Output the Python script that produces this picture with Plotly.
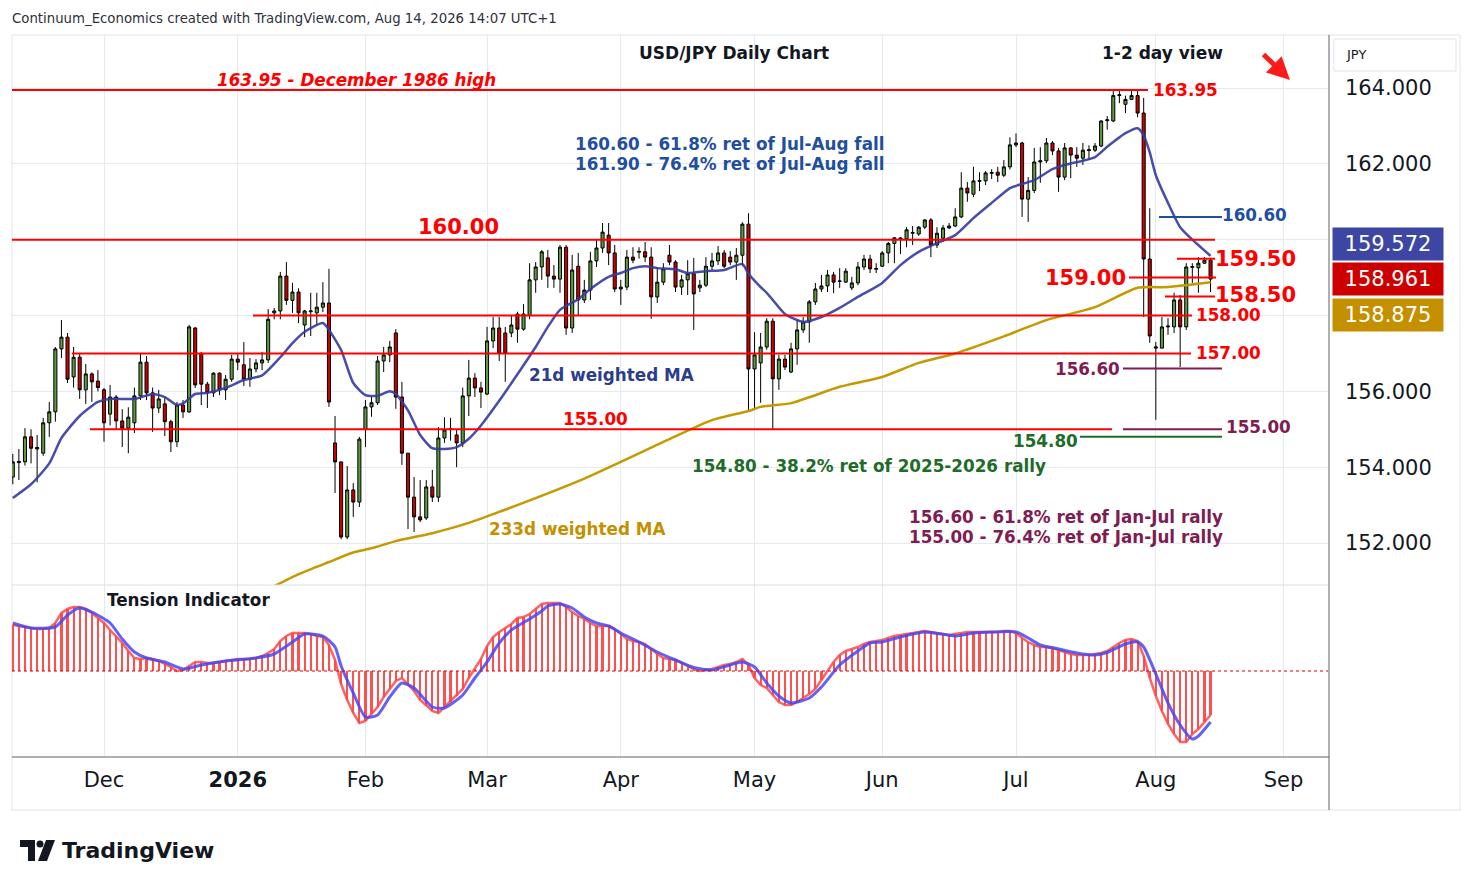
import numpy as np
import pandas as pd
import plotly.graph_objects as go

# ---------------- data ----------------
holidays = ["2025-12-25", "2026-01-01"]
calendar = [d for d in pd.bdate_range("2025-11-10", "2026-09-30")
            if d.strftime("%Y-%m-%d") not in holidays]
n_bars = 198
dates = [d.strftime("%Y-%m-%d") for d in calendar[:n_bars]]

opens = [153.74, 154.12, 154.14, 154.80, 154.48, 154.37, 155.17, 155.46, 157.12, 157.43,
         156.38, 156.90, 156.04, 156.46, 156.27, 156.04, 155.40, 155.85, 155.22, 155.03,
         155.17, 155.88, 156.77, 155.96, 155.56, 155.67, 155.20, 154.67, 155.64, 155.46,
         157.67, 157.00, 156.19, 155.96, 156.48, 156.04, 156.32, 156.85, 156.70, 156.32,
         156.59, 156.75, 156.83, 158.07, 158.12, 159.04, 158.40, 158.62, 157.75, 158.10,
         158.07, 158.22, 158.33, 154.64, 154.14, 152.16, 153.40, 153.08, 155.00, 155.59,
         155.70, 156.80, 156.96, 157.54, 155.85, 154.37, 153.21, 152.69, 152.66, 153.48,
         153.21, 154.77, 154.99, 154.85, 154.64, 155.88, 156.35, 156.09, 155.93, 157.33,
         157.67, 157.54, 157.54, 158.04, 157.64, 158.00, 158.94, 159.28, 159.52, 159.04,
         158.96, 159.80, 157.67, 159.30, 158.41, 158.67, 159.44, 159.78, 160.12, 159.65,
         158.70, 158.75, 159.54, 159.67, 159.68, 159.54, 158.49, 158.88, 159.59, 159.41,
         158.75, 158.94, 159.10, 158.73, 158.80, 159.30, 159.44, 159.65, 159.54, 159.41,
         159.59, 160.41, 156.59, 156.75, 157.17, 157.85, 156.33, 156.85, 156.51, 157.12,
         157.62, 157.83, 158.36, 158.70, 158.78, 159.07, 158.90, 158.88, 158.73, 158.86,
         159.28, 159.49, 159.22, 159.30, 159.65, 159.90, 160.02, 160.02, 160.17, 160.15,
         160.33, 160.52, 159.86, 160.04, 160.31, 160.36, 160.60, 161.36, 161.20, 161.54,
         161.55, 161.75, 161.78, 161.70, 161.92, 162.50, 162.55, 161.07, 161.30, 162.05,
         162.08, 162.55, 162.34, 161.65, 162.42, 162.23, 162.15, 162.35, 162.36, 162.47,
         163.14, 163.13, 163.80, 163.57, 163.70, 163.80, 163.34, 159.49, 157.14, 157.14,
         157.70, 157.70, 158.41, 157.70, 159.27, 159.26, 159.38, 159.46]
highs = [154.35, 154.48, 155.03, 155.00, 154.85, 155.30, 155.72, 157.17, 157.88, 157.54,
         157.17, 157.00, 156.72, 156.50, 156.56, 156.09, 156.17, 155.90, 155.53, 155.58,
         156.10, 157.00, 156.93, 156.10, 156.04, 155.85, 155.25, 155.72, 155.77, 157.75,
         157.70, 157.04, 156.25, 156.50, 156.50, 156.43, 156.96, 156.98, 157.30, 156.88,
         156.85, 157.04, 158.17, 158.20, 159.15, 159.41, 158.86, 158.72, 158.15, 158.60,
         158.60, 158.88, 159.23, 155.35, 154.14, 154.03, 153.58, 154.80, 155.77, 155.85,
         156.93, 157.17, 157.33, 157.64, 156.25, 154.37, 153.74, 153.66, 153.66, 153.93,
         155.06, 155.32, 155.30, 154.98, 156.10, 156.83, 156.48, 156.25, 157.70, 157.96,
         157.96, 157.70, 158.00, 158.10, 158.30, 159.38, 159.41, 159.73, 159.73, 159.33,
         159.86, 159.86, 159.60, 159.65, 158.94, 159.68, 160.00, 160.44, 160.44, 159.86,
         158.94, 159.73, 159.80, 159.80, 159.94, 159.80, 159.28, 159.38, 159.86, 159.46,
         159.07, 159.46, 159.52, 158.94, 159.54, 159.65, 159.83, 159.73, 159.70, 159.78,
         160.46, 160.70, 157.56, 157.54, 157.93, 157.93, 156.96, 156.96, 157.28, 157.88,
         157.96, 158.41, 158.86, 159.07, 159.20, 159.15, 159.25, 159.25, 159.02, 159.41,
         159.60, 159.60, 159.38, 159.70, 159.94, 160.07, 160.07, 160.33, 160.36, 160.36,
         160.54, 160.57, 160.33, 160.39, 160.44, 160.83, 161.78, 161.52, 161.92, 161.78,
         161.81, 161.86, 161.92, 162.10, 162.70, 162.80, 162.58, 161.65, 162.42, 162.44,
         162.68, 162.60, 162.42, 162.55, 162.44, 162.44, 162.55, 162.49, 162.55, 163.15,
         163.26, 163.95, 163.92, 163.80, 163.95, 163.95, 163.74, 160.83, 157.30, 157.96,
         157.93, 158.60, 158.54, 159.38, 159.38, 159.54, 159.54, 159.52]
lows = [153.55, 153.66, 154.04, 154.10, 153.60, 154.30, 154.80, 155.20, 156.88, 156.22,
        156.10, 155.80, 155.67, 155.72, 156.00, 154.67, 155.10, 155.00, 154.53, 154.37,
        154.90, 155.77, 155.77, 154.93, 155.43, 154.82, 154.40, 154.53, 155.30, 155.43,
        156.09, 155.64, 155.56, 155.85, 155.90, 155.77, 156.25, 156.56, 156.14, 156.12,
        156.50, 156.56, 156.75, 157.90, 157.90, 158.28, 158.07, 157.80, 157.43, 157.46,
        157.75, 158.09, 155.59, 153.32, 152.10, 152.10, 152.69, 152.95, 154.53, 155.33,
        155.64, 156.51, 156.77, 155.54, 154.06, 152.37, 152.29, 152.55, 152.61, 153.08,
        153.08, 154.64, 154.70, 154.00, 154.53, 155.35, 155.85, 155.56, 155.90, 157.14,
        156.80, 156.25, 157.43, 157.28, 157.60, 157.90, 158.60, 158.94, 158.73, 158.73,
        158.60, 157.49, 157.54, 158.00, 158.33, 158.41, 159.28, 159.65, 159.33, 158.62,
        158.28, 158.67, 159.38, 159.50, 159.41, 157.91, 158.33, 158.80, 159.33, 158.62,
        158.54, 158.54, 157.62, 158.62, 158.75, 159.20, 159.33, 159.25, 159.33, 158.94,
        159.30, 155.50, 155.51, 155.70, 157.10, 155.00, 156.04, 156.56, 156.48, 156.70,
        157.54, 157.28, 158.28, 158.62, 158.62, 158.59, 158.73, 158.86, 158.67, 158.80,
        159.20, 159.12, 159.12, 159.28, 159.38, 159.38, 159.62, 159.80, 159.86, 160.10,
        160.28, 159.54, 159.78, 159.94, 160.28, 160.33, 160.57, 161.00, 161.12, 161.28,
        161.44, 161.60, 161.52, 161.65, 161.85, 162.44, 160.60, 160.47, 161.23, 161.50,
        162.02, 162.23, 161.26, 161.57, 161.62, 161.92, 161.97, 162.10, 162.31, 162.44,
        162.90, 163.10, 163.60, 163.34, 163.70, 163.23, 157.96, 157.28, 155.25, 157.14,
        157.49, 157.54, 156.64, 157.62, 158.86, 158.60, 159.36, 158.62]
closes = [154.14, 154.15, 154.80, 154.50, 154.52, 155.17, 155.46, 157.12, 157.43, 156.32,
          156.90, 156.04, 156.46, 156.25, 156.10, 155.17, 155.85, 155.22, 155.03, 155.32,
          155.88, 156.77, 155.96, 155.56, 155.80, 155.20, 154.67, 155.64, 155.46, 157.70,
          156.17, 156.19, 155.96, 156.48, 156.04, 156.32, 156.85, 156.77, 156.32, 156.59,
          156.75, 156.83, 157.90, 158.12, 159.04, 158.40, 158.62, 158.07, 158.12, 158.12,
          158.22, 158.33, 155.72, 154.14, 152.16, 153.40, 153.08, 154.74, 155.59, 155.70,
          156.80, 156.96, 157.17, 155.85, 154.37, 153.21, 152.69, 152.61, 153.48, 153.21,
          154.77, 154.98, 155.01, 154.64, 155.88, 156.35, 156.09, 155.98, 157.33, 157.67,
          157.00, 157.00, 157.75, 157.64, 158.04, 158.94, 159.28, 159.68, 159.04, 158.96,
          159.80, 157.67, 159.20, 158.41, 158.67, 159.44, 159.78, 160.20, 159.65, 158.70,
          158.75, 159.54, 159.46, 159.69, 159.54, 158.49, 158.88, 159.23, 159.41, 158.75,
          158.94, 159.10, 158.57, 158.80, 159.30, 159.44, 159.65, 159.30, 159.41, 159.59,
          160.41, 156.59, 156.96, 157.17, 157.85, 156.33, 156.85, 156.64, 157.12, 157.62,
          157.83, 158.36, 158.70, 158.78, 159.07, 158.88, 158.91, 159.17, 158.86, 159.28,
          159.49, 159.23, 159.24, 159.65, 159.90, 160.05, 160.04, 160.26, 160.19, 160.33,
          160.52, 159.86, 160.17, 160.31, 160.36, 160.60, 161.36, 161.23, 161.55, 161.56,
          161.76, 161.77, 161.70, 161.92, 162.50, 162.55, 161.07, 161.30, 162.05, 162.08,
          162.55, 162.34, 161.65, 162.42, 162.23, 162.15, 162.36, 162.37, 162.47, 163.13,
          163.16, 163.80, 163.82, 163.70, 163.80, 163.34, 159.49, 157.46, 157.17, 157.70,
          157.72, 158.41, 157.70, 159.28, 159.29, 159.38, 159.46, 158.961]

ma21_dates = ["2025-11-10", "2025-11-13", "2025-11-18", "2025-11-20", "2025-11-25", "2025-11-28",
              "2025-12-02", "2025-12-08", "2025-12-11", "2025-12-15", "2025-12-17", "2025-12-18",
              "2025-12-22", "2025-12-24", "2025-12-30", "2026-01-05", "2026-01-08", "2026-01-13",
              "2026-01-15", "2026-01-19", "2026-01-22", "2026-01-23", "2026-01-27", "2026-01-29",
              "2026-02-02", "2026-02-04", "2026-02-06", "2026-02-09", "2026-02-11", "2026-02-13",
              "2026-02-17", "2026-02-19", "2026-02-23", "2026-02-25", "2026-02-27", "2026-03-04",
              "2026-03-09", "2026-03-12", "2026-03-16", "2026-03-18", "2026-03-23", "2026-03-25",
              "2026-03-30", "2026-04-01", "2026-04-03", "2026-04-07", "2026-04-09", "2026-04-14",
              "2026-04-16", "2026-04-21", "2026-04-24", "2026-04-29", "2026-04-30", "2026-05-04",
              "2026-05-05", "2026-05-06", "2026-05-08", "2026-05-13", "2026-05-18", "2026-05-21",
              "2026-05-26", "2026-06-01", "2026-06-04", "2026-06-09", "2026-06-12", "2026-06-17",
              "2026-06-22", "2026-06-25", "2026-06-30", "2026-07-01", "2026-07-06", "2026-07-09",
              "2026-07-13", "2026-07-20", "2026-07-22", "2026-07-27", "2026-07-29", "2026-07-30",
              "2026-07-31", "2026-08-03", "2026-08-05", "2026-08-07", "2026-08-11", "2026-08-14"]
ma21_values = [153.19, 153.55, 154.10, 154.77, 155.35, 155.72,
               155.80, 155.80, 155.93, 155.85, 155.64, 155.68,
               155.93, 155.96, 156.09, 156.30, 156.42, 156.90,
               157.27, 157.57, 157.80, 157.62, 157.09, 156.22,
               155.90, 155.88, 156.00, 155.93, 155.50, 154.85,
               154.50, 154.48, 154.53, 154.75, 155.10, 155.75,
               156.45, 157.17, 157.70, 158.15, 158.43, 158.70,
               159.02, 159.12, 159.25, 159.30, 159.25, 159.22,
               159.12, 159.17, 159.20, 159.36, 159.10, 158.75,
               158.60, 158.41, 158.04, 157.83, 157.96, 158.20,
               158.49, 158.86, 159.33, 159.68, 159.91, 160.12,
               160.57, 160.97, 161.36, 161.42, 161.57, 161.86,
               161.97, 162.18, 162.45, 162.81, 162.94, 162.75,
               162.30, 161.70, 160.97, 160.33, 160.00, 159.572]

ma233_dates = ["2026-01-09", "2026-01-16", "2026-01-23", "2026-01-29", "2026-02-03", "2026-02-09",
               "2026-02-17", "2026-02-25", "2026-03-04", "2026-03-24", "2026-04-13", "2026-04-22",
               "2026-04-30", "2026-05-04", "2026-05-11", "2026-05-21", "2026-06-01", "2026-06-09",
               "2026-06-17", "2026-06-29", "2026-07-08", "2026-07-20", "2026-07-29", "2026-08-05",
               "2026-08-14"]
ma233_values = [150.78, 151.18, 151.50, 151.75, 151.86, 152.05,
                152.26, 152.53, 152.82, 153.70, 154.74, 155.24,
                155.48, 155.59, 155.69, 156.12, 156.38, 156.75,
                157.00, 157.45, 157.88, 158.22, 158.73, 158.75,
                158.875]

tension_hist = [4.6, 4.5, 4.4, 4.3, 4.2, 4.2, 4.3, 4.8, 5.8, 6.2,
                6.4, 6.4, 6.2, 5.8, 5.3, 4.8, 4.1, 3.5, 2.8, 2.0,
                1.3, 1.2, 1.3, 1.2, 1.0, 0.7, 0.4, 0.0, 0.1, 0.5,
                0.9, 0.9, 0.8, 0.8, 0.9, 1.0, 1.1, 1.2, 1.2, 1.2,
                1.3, 1.5, 1.8, 2.2, 3.0, 3.5, 3.8, 3.8, 3.8, 3.7,
                3.5, 3.4, 2.6, 1.1, -1.3, -2.9, -4.2, -5.2, -5.0, -4.3,
                -3.6, -2.6, -1.8, -1.0, -0.7, -1.3, -2.0, -2.9, -3.5, -4.0,
                -4.2, -3.6, -3.1, -2.5, -1.8, -0.7, 0.2, 1.2, 2.5, 3.4,
                3.9, 4.3, 4.7, 5.3, 5.4, 5.7, 6.2, 6.7, 6.8, 6.8,
                6.8, 6.4, 5.9, 5.5, 5.2, 4.8, 4.5, 4.5, 4.5, 4.2,
                3.7, 3.2, 3.0, 2.9, 2.7, 2.2, 1.7, 1.3, 1.2, 1.1,
                0.8, 0.5, 0.2, 0.0, 0.1, 0.2, 0.4, 0.6, 0.7, 0.9,
                1.2, 0.6, -0.7, -1.4, -1.7, -2.4, -3.1, -3.4, -3.4, -3.1,
                -2.7, -2.3, -1.8, -0.9, 0.0, 0.9, 1.6, 2.0, 2.2, 2.4,
                2.7, 2.9, 3.0, 3.1, 3.3, 3.5, 3.6, 3.7, 3.8, 3.9,
                4.0, 3.9, 3.8, 3.7, 3.6, 3.7, 3.8, 3.9, 3.9, 3.9,
                3.9, 3.9, 3.9, 4.0, 4.0, 3.8, 3.3, 2.9, 2.6, 2.4,
                2.4, 2.3, 2.1, 1.9, 1.7, 1.6, 1.6, 1.6, 1.7, 1.8,
                2.0, 2.4, 2.8, 3.1, 3.2, 3.0, 1.5, -0.7, -2.5, -4.0,
                -5.3, -6.3, -7.1, -7.1, -6.3, -5.8, -5.1, -4.4]

signal_dates = ["2025-11-10", "2025-11-13", "2025-11-19", "2025-11-21", "2025-11-25", "2025-11-27",
                "2025-12-02", "2025-12-04", "2025-12-08", "2025-12-10", "2025-12-15", "2025-12-18",
                "2025-12-23", "2025-12-30", "2026-01-07", "2026-01-12", "2026-01-15", "2026-01-19",
                "2026-01-22", "2026-01-26", "2026-01-27", "2026-01-29", "2026-02-02", "2026-02-04",
                "2026-02-06", "2026-02-10", "2026-02-12", "2026-02-17", "2026-02-19", "2026-02-24",
                "2026-02-26", "2026-03-02", "2026-03-04", "2026-03-06", "2026-03-11", "2026-03-13",
                "2026-03-16", "2026-03-18", "2026-03-20", "2026-03-24", "2026-03-26", "2026-03-30",
                "2026-04-01", "2026-04-06", "2026-04-09", "2026-04-14", "2026-04-17", "2026-04-22",
                "2026-04-27", "2026-04-29", "2026-05-01", "2026-05-05", "2026-05-07", "2026-05-11",
                "2026-05-14", "2026-05-18", "2026-05-21", "2026-05-26", "2026-05-28", "2026-06-01",
                "2026-06-04", "2026-06-10", "2026-06-17", "2026-06-22", "2026-06-25", "2026-07-01",
                "2026-07-03", "2026-07-07", "2026-07-10", "2026-07-15", "2026-07-20", "2026-07-22",
                "2026-07-27", "2026-07-29", "2026-07-30", "2026-08-03", "2026-08-05", "2026-08-07",
                "2026-08-11", "2026-08-12", "2026-08-14"]
signal_values = [4.8, 4.3, 4.4, 5.6, 6.3, 5.9,
                 4.8, 3.2, 1.9, 1.3, 0.9, 0.2,
                 0.6, 1.0, 1.3, 1.7, 2.9, 3.7,
                 3.5, 2.4, 0.5, -2.2, -4.6, -4.4,
                 -2.6, -1.2, -1.7, -3.6, -3.7, -2.4,
                 -0.7, 0.9, 2.8, 4.1, 5.2, 6.0,
                 6.5, 6.7, 6.3, 5.4, 4.8, 4.5,
                 3.8, 2.9, 1.9, 1.1, 0.35, 0.1,
                 0.6, 0.9, 0.4, -1.2, -2.5, -3.2,
                 -2.7, -1.6, 0.6, 2.0, 2.8, 2.9,
                 3.4, 3.9, 3.5, 3.8, 3.9, 3.9,
                 3.3, 2.6, 2.2, 1.8, 1.6, 1.85,
                 2.7, 2.9, 2.4, -0.3, -3.2, -5.4,
                 -6.8, -6.5, -5.1]

red_levels = [163.95, 160.00, 159.50, 159.00, 158.50, 158.00, 157.00, 155.00]
purple_levels = [156.60, 155.00]
green_levels = [154.80]
blue_levels = [160.60]

month_starts = ["2025-12", "2026-01", "2026-02", "2026-03", "2026-04",
                "2026-05", "2026-06", "2026-07", "2026-08", "2026-09"]
month_labels = ["Dec", "<b>2026</b>", "Feb", "Mar", "Apr", "May", "Jun", "Jul", "Aug", "Sep"]
price_ticks = [152, 154, 156, 158, 160, 162, 164]
price_tick_text = ["152.000", "154.000", "156.000", "", "", "162.000", "164.000"]

# ---------------- geometry helpers (layout only) ----------------
W, H = 1474, 887
PL, PR, PT, PB = 12, 1328, 35, 757
SPLIT = 585


def xp(px):
    return (px - PL) / (PR - PL)


def yp(py):
    return (PB - py) / (PB - PT)


index_of = {d.strftime("%Y-%m-%d"): i for i, d in enumerate(calendar)}
x = np.arange(n_bars)
tickvals = [next(i for i, d in enumerate(calendar) if d.strftime("%Y-%m") == m) for m in month_starts]
bar_px = 6.08
first_px = 12.8
x_range = [(PL - first_px) / bar_px, (PR - first_px) / bar_px]

FONT = "DejaVu Sans"
RED = "#ff0000"
PURPLE = "#7d1d52"
GREEN = "#1f6b28"
BLUE = "#1f4f9e"
GRID = "#e4eaf1"
TXT = 16.8

fig = go.Figure()

fig.add_trace(go.Scatter(x=[index_of[d] for d in ma233_dates], y=ma233_values, mode="lines",
                         line=dict(color="#c49a00", width=2.5, shape="spline", smoothing=0.6),
                         hoverinfo="skip", showlegend=False, xaxis="x", yaxis="y"))
fig.add_trace(go.Scatter(x=[index_of[d] for d in ma21_dates], y=ma21_values, mode="lines",
                         line=dict(color="rgba(52,58,160,0.9)", width=2.5, shape="spline", smoothing=0.6),
                         hoverinfo="skip", showlegend=False, xaxis="x", yaxis="y"))
fig.add_trace(go.Candlestick(x=x, open=opens, high=highs, low=lows, close=closes,
                             increasing=dict(line=dict(color="#000000", width=1), fillcolor="#5e9c42"),
                             decreasing=dict(line=dict(color="#000000", width=1), fillcolor="#cc0000"),
                             whiskerwidth=0, hoverinfo="skip", showlegend=False,
                             xaxis="x", yaxis="y"))

fig.add_trace(go.Bar(x=x, y=tension_hist, width=0.36, marker=dict(color="rgba(255,60,60,0.9)", line=dict(width=0)),
                     hoverinfo="skip", showlegend=False, xaxis="x2", yaxis="y2"))
fig.add_trace(go.Scatter(x=x, y=tension_hist, mode="lines",
                         line=dict(color="rgba(255,70,70,0.85)", width=2.5),
                         hoverinfo="skip", showlegend=False, xaxis="x2", yaxis="y2"))
fig.add_trace(go.Scatter(x=[index_of[d] for d in signal_dates], y=signal_values, mode="lines",
                         line=dict(color="rgba(70,70,245,0.85)", width=3, shape="spline", smoothing=0.6),
                         hoverinfo="skip", showlegend=False, xaxis="x2", yaxis="y2"))

shapes = []


def hline(level, px0, px1, color, width=2):
    shapes.append(dict(type="line", xref="paper", yref="y", x0=xp(px0), x1=xp(px1),
                       y0=level, y1=level, line=dict(color=color, width=width)))


red_extents = [(12, 1148), (12, 1215), (1177, 1215), (1129, 1216), (1165, 1215),
               (253, 1192), (72, 1191), (90, 1112)]
for lv, (a, b) in zip(red_levels, red_extents):
    hline(lv, a, b, RED)
for lv in purple_levels:
    hline(lv, 1123, 1222, PURPLE)
for lv in green_levels:
    hline(lv, 1080, 1222, GREEN)
for lv in blue_levels:
    hline(lv, 1159, 1222, BLUE)

# zero line of the indicator
shapes.append(dict(type="line", xref="paper", yref="y2", x0=0, x1=1, y0=0, y1=0,
                   line=dict(color="#e00000", width=1, dash="dot")))
# frame and separators
shapes.append(dict(type="rect", xref="paper", yref="paper", x0=xp(12), x1=xp(1460), y0=yp(810), y1=yp(35),
                   line=dict(color="#e0e3eb", width=1), layer="below"))
shapes.append(dict(type="line", xref="paper", yref="paper", x0=0, x1=1, y0=yp(SPLIT), y1=yp(SPLIT),
                   line=dict(color="#d9dde6", width=1)))
shapes.append(dict(type="line", xref="paper", yref="paper", x0=xp(1329), x1=xp(1329), y0=yp(35), y1=yp(810),
                   line=dict(color="#5d606b", width=1)))
shapes.append(dict(type="line", xref="paper", yref="paper", x0=0, x1=xp(1329), y0=yp(757), y1=yp(757),
                   line=dict(color="#5d606b", width=1)))
# JPY box
shapes.append(dict(type="rect", xref="paper", yref="paper", x0=xp(1334), x1=xp(1456), y0=yp(71), y1=yp(39),
                   line=dict(color="#e0e3eb", width=1), fillcolor="white"))
# TradingView logo
shapes.append(dict(type="path", xref="paper", yref="paper", fillcolor="#131722", line=dict(width=0),
                   path=f"M{xp(20)},{yp(840)} L{xp(35)},{yp(840)} L{xp(35)},{yp(861)} L{xp(28)},{yp(861)} "
                        f"L{xp(28)},{yp(847)} L{xp(20)},{yp(847)} Z"))
shapes.append(dict(type="circle", xref="paper", yref="paper", fillcolor="#131722", line=dict(width=0),
                   x0=xp(36.5), x1=xp(43.5), y0=yp(847.5), y1=yp(840.5)))
shapes.append(dict(type="path", xref="paper", yref="paper", fillcolor="#131722", line=dict(width=0),
                   path=f"M{xp(46)},{yp(840)} L{xp(55)},{yp(840)} L{xp(47)},{yp(861)} L{xp(38)},{yp(861)} Z"))

annotations = []


def label(text, px, py, color, size=TXT, anchor="left", bold=True, italic=False, family=FONT):
    t = f"<b>{text}</b>" if bold else text
    if italic:
        t = f"<i>{t}</i>"
    annotations.append(dict(text=t, xref="paper", yref="paper", x=xp(px), y=yp(py),
                            xanchor=anchor, yanchor="middle", showarrow=False,
                            font=dict(family=family, size=size, color=color)))


label("Continuum_Economics created with TradingView.com, Aug 14, 2026 14:07 UTC+1", 10, 19, "#2e323c",
      size=13.3, bold=False)
label("USD/JPY Daily Chart", 734, 53, "#131722", size=17, anchor="center")
label("1-2 day view", 1162, 53, "#131722", size=17, anchor="center")
label("163.95 - December 1986 high", 215, 80, RED, italic=True)
label("163.95", 1151, 90, RED)
label("160.60 - 61.8% ret of Jul-Aug fall", 573, 144, BLUE)
label("161.90 - 76.4% ret of Jul-Aug fall", 573, 164, BLUE)
label("160.00", 416, 227, RED, size=21)
label("21d weighted MA", 527, 375, "#2b3d8c")
label("155.00", 561, 419, RED)
label("233d weighted MA", 487, 529, "#c49000")
label("154.80 - 38.2% ret of 2025-2026 rally", 690, 466, GREEN)
label("154.80", 1011, 441, GREEN)
label("156.60", 1053, 369, PURPLE)
label("155.00", 1224, 427, PURPLE)
label("156.60 - 61.8% ret of Jan-Jul rally", 907, 517, PURPLE)
label("155.00 - 76.4% ret of Jan-Jul rally", 907, 537, PURPLE)
label("159.00", 1043, 278, RED, size=21)
label("159.50", 1213, 259, RED, size=21)
label("158.50", 1213, 295, RED, size=21)
label("158.00", 1194, 315, RED)
label("157.00", 1194, 353, RED)
label("160.60", 1220, 215, BLUE)
label("Tension Indicator", 105, 600, "#131722")
label("JPY", 1344, 55, "#131722", size=13, bold=False)
label("TradingView", 60, 850, "#131722", size=22)

# last-value boxes on the price scale
for txt, py, bg in [(f"{ma21_values[-1]:.3f}", 244, "#3d47a3"),
                    (f"{closes[-1]:.3f}", 279, "#cc0000"),
                    (f"{ma233_values[-1]:.3f}", 315, "#c49000")]:
    annotations.append(dict(text=txt, xref="paper", yref="paper", x=xp(1388), y=yp(py),
                            xanchor="center", yanchor="middle", showarrow=False,
                            width=108, height=30, bgcolor=bg, borderpad=1,
                            font=dict(family=FONT, size=21, color="white")))

# red arrow (1-2 day view: lower)
annotations.append(dict(x=xp(1290), y=yp(80), xref="paper", yref="paper", ax=-28, ay=-27,
                        showarrow=True, arrowhead=2, arrowsize=0.9, arrowwidth=5,
                        arrowcolor="#ff1a1a", text=""))

fig.update_layout(
    width=W, height=H, autosize=False,
    margin=dict(l=PL, r=W - PR, t=PT, b=H - PB, pad=0),
    paper_bgcolor="white", plot_bgcolor="white",
    showlegend=False, hovermode=False, bargap=0, boxgap=0.28,
    shapes=shapes, annotations=annotations,
    xaxis=dict(domain=[0, 1], anchor="y", range=x_range, tickvals=tickvals, showticklabels=False,
               showgrid=True, gridcolor=GRID, zeroline=False, showline=False, ticks="",
               rangeslider=dict(visible=False), fixedrange=True),
    yaxis=dict(domain=[yp(SPLIT), 1], anchor="x", side="right", range=[150.893, 165.398],
               tickvals=price_ticks, ticktext=price_tick_text, showgrid=True, gridcolor=GRID,
               zeroline=False, showline=False, ticks="", ticklabelstandoff=16,
               tickfont=dict(family=FONT, size=21, color="#131722"), fixedrange=True),
    xaxis2=dict(domain=[0, 1], anchor="y2", range=x_range, tickvals=tickvals, ticktext=month_labels,
                showgrid=True, gridcolor=GRID, zeroline=False, showline=False, ticks="",
                ticklabelstandoff=8, tickfont=dict(family=FONT, size=21, color="#131722"),
                fixedrange=True),
    yaxis2=dict(domain=[0, yp(SPLIT)], anchor="x2", side="right", range=[-8.6, 8.6],
                showticklabels=False, showgrid=False, zeroline=False, showline=False, fixedrange=True),
)

fig.write_html("out.html", include_plotlyjs=True, config={"displayModeBar": False},
               post_script="document.body.style.margin='0';document.body.style.overflow='hidden';")
